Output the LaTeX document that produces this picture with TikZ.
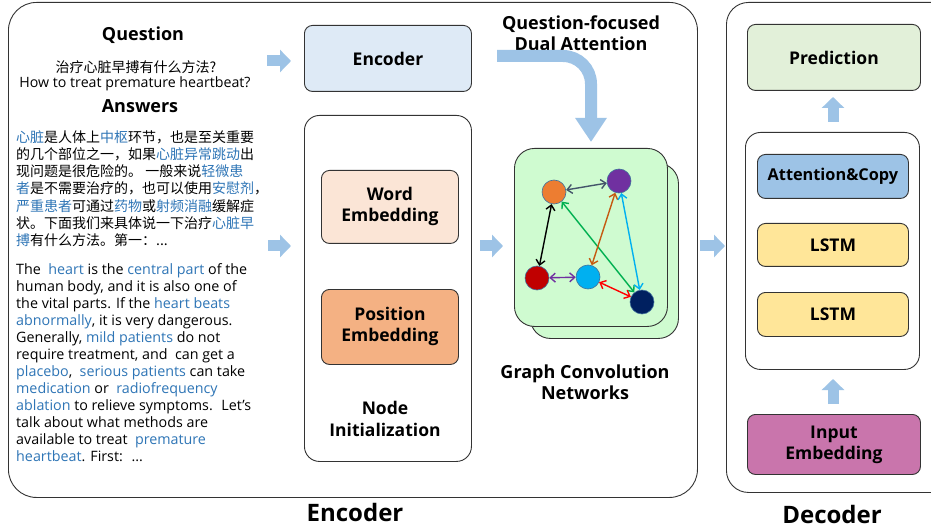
\documentclass[tikz,border=0pt]{standalone}
\usepackage{fontspec}
\setmainfont{Open Sans}
\newfontfamily\cjk{Noto Sans CJK SC}
\usetikzlibrary{arrows.meta}
\definecolor{ablue}{HTML}{2E75B6}
\definecolor{arrowc}{HTML}{9DC3E6}
\definecolor{encfill}{HTML}{DEEAF6}
\definecolor{wordfill}{HTML}{FBE5D6}
\definecolor{posfill}{HTML}{F4B183}
\definecolor{gcnfill}{HTML}{CFFBD0}
\definecolor{predfill}{HTML}{E2F0D9}
\definecolor{attfill}{HTML}{9DC3E6}
\definecolor{lstmfill}{HTML}{FFE699}
\definecolor{inpfill}{HTML}{C975AC}
\definecolor{nodeorange}{HTML}{ED7D31}
\definecolor{nodepurple}{HTML}{7030A0}
\definecolor{nodered}{HTML}{C00000}
\definecolor{nodecyan}{HTML}{00B0F0}
\definecolor{nodenavy}{HTML}{002060}
\definecolor{edgegray}{HTML}{44546A}
\definecolor{edgegreen}{HTML}{00B050}
\definecolor{edgebrown}{HTML}{C55A11}
\definecolor{nodeborder}{HTML}{41719C}
\newcommand{\hb}[1]{\textcolor{ablue}{#1}}
\begin{document}
\begin{tikzpicture}[x=1pt,y=-1pt,
  box/.style={draw=black!80, rounded corners=8pt, line width=0.9pt, anchor=north west, inner sep=0pt, align=center, font=\bfseries\fontsize{17.5}{21}\selectfont},
  bigbox/.style={box, rounded corners=28pt},
  title/.style={font=\bfseries\fontsize{18}{21}\selectfont, inner sep=0pt, align=center},
  bigtitle/.style={font=\bfseries\fontsize{24}{28}\selectfont, inner sep=0pt},
  blockarrow/.style={line width=11pt, draw=arrowc, -{Triangle[width=22pt,length=11pt]}},
  gnode/.style={circle, draw=nodeborder, line width=0.6pt, minimum size=24pt, inner sep=0pt},
  gedge/.style={line width=1.4pt, {Straight Barb[length=5pt,width=9pt]}-{Straight Barb[length=5pt,width=9pt]}},
]
\clip (0,0) rectangle (931,529);
\fill[white] (0,0) rectangle (931,529);

% outer boxes
\node[bigbox, minimum width=689pt, minimum height=495pt] (encbox) at (8,2) {};
\node[bigbox, rounded corners=22pt, minimum width=240pt, minimum height=490pt] (decbox) at (726,2) {};
\node[bigtitle] (enclabel) at (355,512) {Encoder};
\node[bigtitle] (declabel) at (832,514) {Decoder};

% question & answers
\node[title] (qtitle) at (143,35) {Question};
\node[font=\cjk\fontsize{14}{16}\selectfont, inner sep=0pt] (qzh) at (136,67) {治疗心脏早搏有什么方法?};
\node[font=\fontsize{14.2}{16}\selectfont, inner sep=0pt] (qen) at (135,84) {How to treat premature heartbeat?};
\node[title] (atitle) at (140,106) {Answers};

\node[anchor=north west, inner sep=0pt, align=left, font=\cjk\fontsize{14}{17.3}\selectfont] (anszh) at (16,130) {%
\hb{心脏}是人体上\hb{中枢}环节，也是至关重要\\
的几个部位之一，如果\hb{心脏异常跳动}出\\
现问题是很危险的。 一般来说\hb{轻微患}\\
\hb{者}是不需要治疗的，也可以使用\hb{安慰剂}，\\
\hb{严重患者}可通过\hb{药物}或\hb{射频消融}缓解症\\
状。下面我们来具体说一下治疗\hb{心脏早}\\
\hb{搏}有什么方法。第一：...};

\node[anchor=north west, inner sep=0pt, align=left, font=\fontsize{14.3}{17}\selectfont] (ansen) at (16,263) {%
The \ \hb{heart} is the \hb{central part} of the\\
human body, and it is also one of\\
the vital parts. If the \hb{heart beats}\\
\hb{abnormally}, it is very dangerous.\\
Generally, \hb{mild patients} do not\\
require treatment, and \ can get a\\
\hb{placebo}, \ \hb{serious patients} can take\\
\hb{medication} or \ \hb{radiofrequency}\\
\hb{ablation} to relieve symptoms. \ Let's\\
talk about what methods are\\
available to treat \ \hb{premature}\\
\hb{heartbeat}. First: \ ...};

% encoder internals
\node[box, fill=encfill, minimum width=167pt, minimum height=66pt] (encoder) at (304,25) {Encoder};
\node[box, rounded corners=15pt, minimum width=167pt, minimum height=346pt] (nodeinit) at (304,115) {};
\node[box, fill=wordfill, minimum width=137pt, minimum height=73pt] (wordemb) at (321,170) {Word\\Embedding};
\node[box, fill=posfill, minimum width=137pt, minimum height=75pt] (posemb) at (321,289) {Position\\Embedding};
\node[title, font=\bfseries\fontsize{17.5}{22}\selectfont] (nilabel) at (385,419) {Node\\Initialization};

% GCN
\node[box, fill=gcnfill, rounded corners=20pt, minimum width=148pt, minimum height=175pt] (gcnback) at (530,163) {};
\node[box, fill=gcnfill, rounded corners=20pt, minimum width=153pt, minimum height=178pt] (gcnfront) at (514,148) {};
\node[gnode, fill=nodeorange] (n1) at (554,192) {};
\node[gnode, fill=nodepurple] (n2) at (619,181) {};
\node[gnode, fill=nodered] (n3) at (537,278) {};
\node[gnode, fill=nodecyan] (n4) at (588,277) {};
\node[gnode, fill=nodenavy] (n5) at (642,302) {};
\draw[gedge, edgegray] (n1) -- (n2);
\draw[gedge, black] (n1) -- (n3);
\draw[gedge, edgegreen] (n1) -- (n5);
\draw[gedge, edgebrown] (n2) -- (n4);
\draw[gedge, nodecyan] (n2) -- (n5);
\draw[gedge, nodepurple] (n3) -- (n4);
\draw[gedge, red] (n4) -- (n5);
\node[title, font=\bfseries\fontsize{18}{21}\selectfont] (gcnlabel) at (585,382) {Graph Convolution\\Networks};
\node[title, font=\bfseries\fontsize{18}{21}\selectfont] (attlabel) at (581,33) {Question-focused\\Dual Attention};

% decoder internals
\node[box, fill=predfill, minimum width=173pt, minimum height=66pt] (pred) at (747,24) {Prediction};
\node[box, rounded corners=15pt, minimum width=174pt, minimum height=237pt] (inner) at (745,132) {};
\node[box, fill=attfill, minimum width=151pt, minimum height=44pt, font=\bfseries\fontsize{16.3}{19}\selectfont] (attcopy) at (757,154) {Attention\&Copy};
\node[box, fill=lstmfill, minimum width=151pt, minimum height=43pt] (lstma) at (757,223) {LSTM};
\node[box, fill=lstmfill, minimum width=151pt, minimum height=44pt] (lstmb) at (757,292) {LSTM};
\node[box, fill=inpfill, minimum width=173pt, minimum height=60pt] (inpemb) at (747,414) {Input\\Embedding};

% block arrows
\coordinate (a1s) at (267,61); \coordinate (a1e) at (291,61);
\coordinate (a2s) at (268,246); \coordinate (a2e) at (291,246);
\coordinate (a3s) at (480,246); \coordinate (a3e) at (503,246);
\coordinate (a4s) at (700,246); \coordinate (a4e) at (725,246);
\coordinate (a5s) at (833,122); \coordinate (a5e) at (833,97);
\coordinate (a6s) at (833,404); \coordinate (a6e) at (833,379);
\coordinate (cs) at (497,56); \coordinate (ce) at (591,142);
\draw[blockarrow] (a1s) -- (a1e);
\draw[blockarrow] (a2s) -- (a2e);
\draw[blockarrow] (a3s) -- (a3e);
\draw[blockarrow] (a4s) -- (a4e);
\draw[blockarrow] (a5s) -- (a5e);
\draw[blockarrow] (a6s) -- (a6e);
\draw[line width=12pt, draw=arrowc, rounded corners=28pt, -{Triangle[width=30pt,length=24pt]}] (cs) -| (ce);
\end{tikzpicture}
\end{document}
